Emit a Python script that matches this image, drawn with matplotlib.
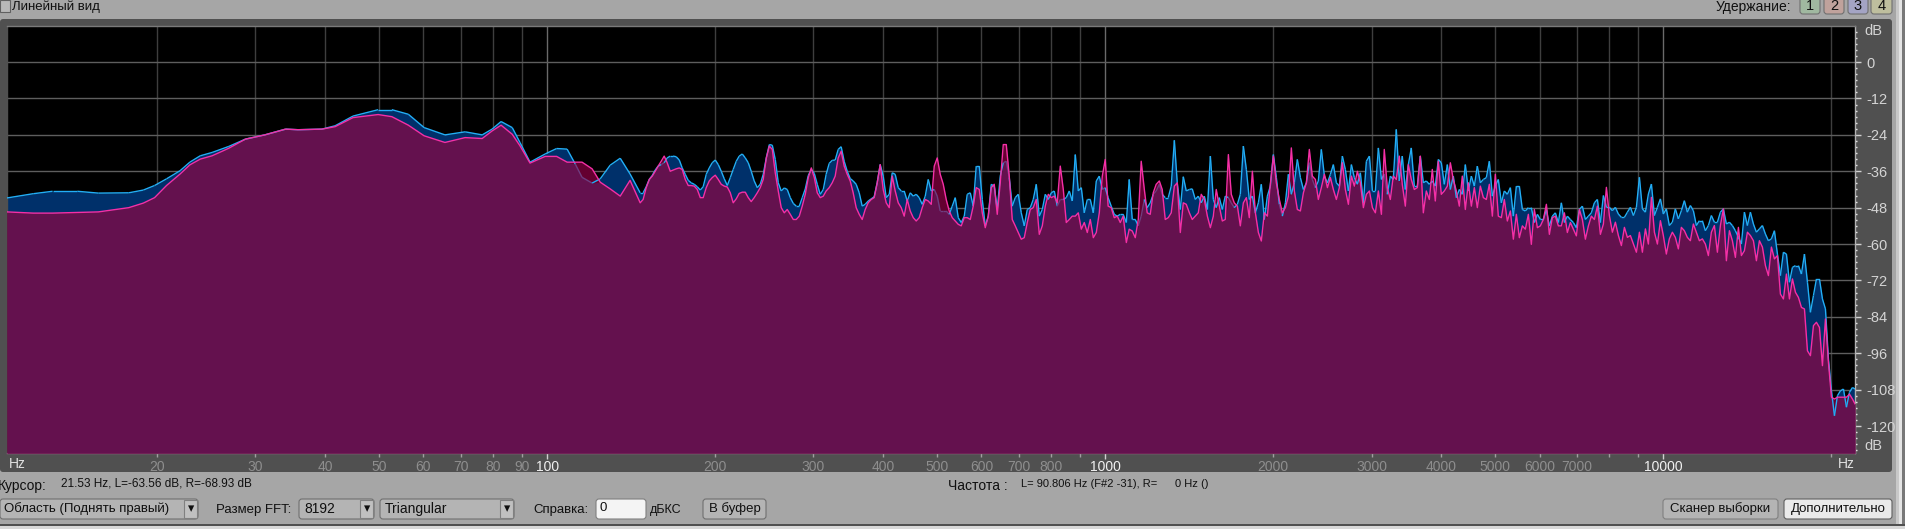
import numpy as np
import matplotlib
matplotlib.use('Agg')
import matplotlib.pyplot as plt
from matplotlib.collections import LineCollection
from matplotlib.patches import Rectangle, FancyBboxPatch
from matplotlib.ticker import FixedLocator, NullFormatter

plt.rcParams['font.family'] = ['Liberation Sans', 'DejaVu Sans']

W, H = 1906, 529

freq_hz = [
    10.77, 12.0, 13.0, 14.4, 15.7, 17.8, 18.9, 19.8, 20.8, 22.0,
    22.9, 23.9, 25.1, 26.9, 28.8, 31.2, 34.0, 35.8, 39.5, 41.7,
    44.9, 49.8, 52.7, 56.4, 60.2, 65.6, 71.3, 76.5, 79.7, 82.7,
    86.6, 89.4, 93.2, 99.2, 104, 108.6, 112.3, 115.5, 120.4, 124.5,
    129.7, 135.2, 140.8,
    146.8, 148.6, 150.5, 152.4, 154.3, 156.2, 158.1, 160.1, 162.1, 164.1,
    166.2, 168.2, 170.3, 172.5, 174.6, 176.8, 179.0, 181.2, 183.5, 185.8,
    188.1, 190.4, 192.8, 195.2, 197.6, 200.1, 202.6, 205.1, 207.7, 210.3,
    212.9, 215.5, 218.2, 220.9, 223.7, 226.5, 229.3, 232.1, 235.0, 238.0,
    240.9, 243.9, 247.0, 250.1, 253.2, 256.3, 259.5, 262.7, 266.0, 269.3,
    272.7, 276.1, 279.5, 283.0, 286.5, 290.1, 293.7, 297.4, 301.1, 304.8,
    308.6, 312.5, 316.2, 320.2, 324.2, 328.2, 332.3, 336.4, 340.6, 344.9,
    349.2, 353.5, 357.9, 362.4, 366.9, 371.5, 376.1, 380.8, 385.5, 390.3,
    395.2,
    400.1, 405.1, 410.2, 415.3, 420.4, 425.7, 431.0, 436.3, 441.8,
    447.3, 452.9, 458.5, 464.2, 470.0, 475.9, 481.8, 487.8, 493.9, 500.0,
    506.2, 512.6, 518.9, 525.4, 532.0, 538.6, 545.3, 552.1, 559.0, 565.9,
    573.0, 580.1, 587.3, 594.7, 602.1, 609.6, 617.2, 624.9, 632.6, 640.5,
    648.5, 656.6, 664.8, 673.0, 681.4, 689.9, 698.5, 707.2, 716.0, 725.0,
    734.0, 743.1, 752.4, 761.8, 771.3, 780.9, 790.6, 800.4, 810.4, 820.5,
    830.7, 841.1, 851.6, 862.2, 872.9, 883.8, 894.8, 906.0, 917.2, 928.7,
    940.2, 952.0, 963.8, 975.8, 988.0,
    1000, 1012, 1025, 1038, 1051, 1064, 1077, 1091, 1104, 1118,
    1132, 1146, 1160, 1175, 1189, 1204, 1219, 1234, 1250, 1265,
    1281, 1297, 1313, 1330, 1346, 1363, 1380, 1397, 1415, 1432,
    1450, 1468, 1486, 1505, 1524, 1543, 1562, 1581, 1601, 1621,
    1641, 1662, 1682, 1703, 1725, 1746, 1768, 1790, 1812, 1835,
    1858, 1881, 1904, 1928, 1952, 1976, 2001, 2026, 2051, 2077,
    2103, 2129, 2155, 2182, 2209, 2237, 2265, 2293, 2321, 2350,
    2380, 2409, 2439, 2470, 2501, 2532, 2563, 2595, 2627, 2660,
    2693, 2727, 2761, 2795, 2830, 2865, 2901, 2937, 2974, 3011,
    3048, 3086, 3125, 3162, 3202, 3242, 3282, 3323, 3364, 3406,
    3449, 3492, 3535, 3579, 3624, 3669, 3715, 3761, 3808, 3855,
    3903, 3952, 4001, 4051, 4102, 4153, 4204, 4257, 4310, 4363,
    4418, 4473, 4529, 4585, 4642, 4700, 4759, 4818, 4878, 4939,
    5000, 5062, 5126, 5189, 5254, 5320, 5386, 5453, 5521, 5590,
    5659, 5730, 5801, 5873, 5947, 6021, 6096, 6172, 6249, 6326,
    6405, 6485, 6566, 6648, 6730, 6814, 6899, 6985, 7072, 7160,
    7250, 7340, 7431, 7524, 7618, 7713, 7809, 7906, 8004, 8104,
    8205, 8307, 8411, 8516, 8622, 8729, 8838, 8948, 9060, 9172,
    9287, 9402, 9520, 9638, 9758, 9880,
    10000, 10125, 10251, 10379, 10508, 10639, 10772, 10906, 11042, 11180,
    11319, 11460, 11603, 11748, 11894, 12042, 12192, 12344, 12498, 12654,
    12811, 12971, 13133, 13296, 13462, 13630, 13800, 13972, 14146, 14322,
    14501, 14681, 14864, 15050, 15237, 15427, 15619, 15814, 16011, 16210,
    16412, 16617, 16824, 17034, 17246, 17461, 17678, 17899, 18122, 18347,
    18576, 18807, 19042, 19279, 19519, 19762, 20009, 20258, 20510, 20766,
    21025, 21287, 21552, 21820, 22050,
]

# canal izquierdo
left_db = [
    -44.8, -43.4, -42.6, -42.6, -43.2, -43.1, -42.2, -40.7, -38.5, -35.8,
    -33, -30.9, -29.8, -27.8, -25.4, -24, -22.1, -22.3, -22.1, -21,
    -17.8, -15.7, -15.7, -17.2, -21.6, -24, -23, -24, -22.1, -19.6,
    -21.6, -26.5, -33, -30.3, -28.5, -28.7, -33.6, -38, -39.9, -38.5,
    -34, -31.7, -36.9,
    -43.1, -43.1, -41.1, -38.7, -37.4, -35.6, -34.3, -33.8, -33.2, -31.6,
    -31, -31, -31.2, -32.3, -34.9, -37, -39, -39.8, -40.3, -41.1,
    -42.2, -41.1, -37, -34.9, -33.2, -32.3, -33.8, -36, -38.5, -40.7,
    -38.1, -35.4, -32.7, -31, -30.3, -31.6, -33.2, -36, -39.2, -41.4,
    -40.3, -37, -31.6, -27.2, -27.4, -32.1, -39.8, -42.5, -41.5, -42,
    -44.7, -46.6, -47.5, -47.5, -44.7, -41.8, -37.4, -35.4, -36.7, -40.3,
    -43.6, -42, -37, -33.4, -32.4, -32.3, -28.8, -27.9, -32.7, -36,
    -38.4, -39.2, -40.3, -43.1, -47.5, -46.9, -45.8, -45.1, -44.4, -39.8,
    -33.8,
    -37.6, -44.7, -43.6, -36.5, -37, -41.4, -42.5, -42.5, -45.8, -43.1,
    -44.2, -43.6, -44.7, -46.9, -44.2, -38.7, -42.5, -42, -44.2, -49.1,
    -49.1, -49.1, -50.2, -47.5, -44.7, -51.3, -52.9, -50.8, -43.6, -43.1,
    -47.5, -34.3, -34.3, -45.3, -54, -50.8, -40.3, -40.9, -48.6, -37.6,
    -33.2, -32.7, -38.1, -47.5, -44.7, -43.6, -49.7, -54, -48.6, -48,
    -45.3, -40.3, -50.8, -48.6, -43.6, -45.3, -43.1, -42.5, -47.5, -45.3,
    -45.3, -44.7, -42.5, -45.8, -30.5, -42.5, -41.4, -49.7, -45.3, -45.3,
    -49.7, -39.2, -37.6, -42, -41.4, -44.7, -47.5, -50.2, -50.8, -50.2,
    -50.2, -52.9, -38.7, -51.9, -51.9, -54, -50.8, -45.3, -48, -46.4,
    -43.6, -42.5, -40.3, -43.6, -44.7, -44.7, -40.9, -25.8, -39.8, -48.6,
    -37.8, -42.5, -42, -41.8, -45.3, -44.2, -46.4, -44.2, -48.6, -31,
    -45.3, -48, -44.7, -48.6, -44.2, -44.7, -46.4, -48, -46.9, -43.6,
    -27.7, -35.4, -45.3, -44.2, -49.7, -46.4, -40.3, -51.9, -44.2, -40.9,
    -30.5, -38.1, -46.9, -50.8, -46.4, -37, -43.6, -39.8, -32.1, -38.1,
    -42, -39.8, -33.2, -38.7, -41.4, -39.2, -28.8, -37.6, -39.8, -37,
    -33.8, -39.8, -40.9, -31, -35.4, -42.5, -33.8, -38.1, -40.3, -36.5,
    -46.4, -32.7, -31, -42.5, -42.5, -28.3, -38.7, -37, -43.6, -37.6,
    -38.7, -22.2, -39.2, -31, -42, -33.8, -28.3, -40.9, -40.9, -31,
    -39.8, -39.2, -40.3, -39.2, -40.9, -32.1, -33.2, -40.3, -33.8, -42,
    -37.6, -44.7, -42, -43.6, -33.8, -42.5, -37.6, -40.9, -34.3, -39.8,
    -38.7, -38.1, -32.7, -44.2, -40.9, -38.7, -46.4, -42.5, -43.6, -41.4,
    -50.8, -40.9, -40.9, -48.6, -49.1, -48, -48, -52.9, -50.2, -51.9,
    -51.9, -48.6, -54, -50.8, -49.7, -52.9, -46.4, -52.9, -50.8, -51.9,
    -52.9, -54.6, -48.6, -47.5, -51.9, -50.8, -49.7, -46.4, -45.3, -52.9,
    -44, -47.9, -47.9, -49, -47.9, -50.1, -51.2, -51.2, -49.5, -47.9,
    -50.6, -47.9, -38, -48.4, -49.5, -43.5, -40.2, -50.6, -47.9, -45.1,
    -50.1, -48.4, -53.9, -52.8, -48.4, -51.7, -49, -45.7, -49.5, -47.3,
    -49, -53.9, -52.3, -52.3, -55.6, -53.9, -50.6, -52.8, -52.8, -49.5,
    -48.4, -53.4, -52.8, -53.9, -55.6, -57.8, -60, -49.5, -53.9, -49.5,
    -53.4, -56.1, -55, -53.9, -56.7, -58.9, -58.3, -55.6, -63.3,
    -70.4, -62.7, -63.3, -72.6, -67.7, -67.1, -67.1, -69.9, -63.3, -72.6,
    -82.5, -77, -71.5, -71.5, -78.1, -81.4, -97.9, -108.4, -116.6, -110,
    -108.4, -107.8, -113.8, -108.9, -107.3, -107.8,
]

# canal derecho
right_db = [
    -49.4, -49.8, -49.8, -49.6, -49.4, -48, -46.5, -44.7, -40.7, -36.9,
    -33.9, -32, -30.9, -28.4, -25.4, -24, -22.1, -22.3, -22.1, -21.3,
    -18.3, -17.3, -18, -20.8, -24.3, -26.5, -24.9, -25.2, -22.7, -20.8,
    -23.8, -27.6, -33.3, -31.1, -31.1, -33, -33, -33, -35.2, -39.6,
    -41.8, -44.2, -39,
    -46.4, -45.3, -41.4, -38.7, -37.6, -36, -34.3, -32.7, -31, -33.2,
    -36, -35.6, -35.2, -34.9, -35.4, -38.7, -40.7, -40.7, -40.9, -42,
    -44.7, -44.7, -41.4, -39.2, -38.1, -37.3, -38.7, -40.3, -40.9, -41.2,
    -43.1, -46.4, -45.1, -43.3, -42.9, -42.9, -44.7, -46, -44.7, -43.1,
    -41.4, -38.7, -31.6, -27.7, -28.8, -36.5, -42.5, -48, -49.7, -48.6,
    -50.2, -51.9, -51.9, -50.8, -47.5, -43.6, -38.1, -34.9, -38.1, -43.1,
    -44.7, -44.2, -42.5, -41.4, -39.8, -37.6, -31.6, -29.4, -34.3, -37,
    -39.2, -43.1, -48, -50.2, -51.9, -48.6, -46.4, -45.3, -44.7, -39.8,
    -33.8,
    -42, -46.4, -48, -37.6, -42.5, -46.4, -48, -50.8, -45.3, -49.1,
    -51.3, -52.4, -51.3, -48, -45.3, -45.8, -46.9, -34.3, -31.6, -37,
    -40.3, -45.3, -49.1, -51.3, -52.4, -53.5, -54, -51.3, -51.3, -51.9,
    -47.5, -41.4, -42, -49.7, -54.6, -50.8, -41.4, -40.3, -50.2, -39.8,
    -27.2, -27.2, -37.6, -51.9, -54, -56.2, -58.4, -57.9, -52.9, -48.6,
    -48, -45.3, -56.8, -54, -47.5, -43.6, -44.7, -44.2, -46.4, -34.3,
    -42, -52.9, -51.9, -50.8, -50.8, -49.7, -55.1, -52.9, -56.2, -51.9,
    -57.9, -56.2, -49.7, -37.6, -32.1, -47.5, -48, -51.3, -50.8, -52.9,
    -50.8, -59.5, -55.1, -55.7, -57.9, -51.9, -32.7, -42, -49.7, -50.2,
    -43.1, -40.3, -39.2, -42, -51.9, -51.3, -49.7, -40.9, -39.8, -56.2,
    -46.4, -46.9, -49.7, -51.9, -50.8, -49.7, -43.6, -45.3, -50.8, -54.6,
    -50.8, -42, -47.5, -52.4, -51.9, -30.5, -43.6, -46.4, -47.5, -54,
    -46.4, -44.7, -51.3, -36, -49.7, -56.2, -59, -49.7, -50.8, -40.3,
    -31, -39.8, -45.3, -49.7, -48, -44.2, -28.3, -42.5, -48.6, -49.1,
    -43.1, -39.8, -28.8, -37.6, -38.7, -45.3, -41.4, -37, -41.4, -38.1,
    -42, -45.3, -41.4, -33.2, -42, -46.9, -37.6, -40.9, -36, -39.8,
    -48, -43.6, -42.5, -48, -49.7, -42.5, -50.2, -28.8, -41.4, -45.3,
    -37.6, -38.7, -31, -40.3, -47.5, -33.8, -38.7, -42, -41.4, -31,
    -49.7, -42.5, -45.3, -35.4, -45.8, -32.7, -43.6, -42.5, -40.9, -33.2,
    -38.7, -42.5, -47.5, -37.6, -48.6, -39.8, -47.5, -41.4, -48, -40.9,
    -44.7, -45.3, -40.3, -50.8, -37, -50.8, -51.3, -45.3, -52.4, -49.1,
    -58.4, -50.2, -57.9, -54, -55.1, -50.2, -60.1, -48.6, -54.6, -54,
    -51.9, -46.9, -56.8, -51.3, -50.8, -54, -54, -49.7, -56.2, -52.9,
    -55.1, -57.3, -48.6, -51.9, -58.4, -54, -50.8, -51.9, -47.5, -56.8,
    -53.4, -41.3, -50.6, -56.1, -52.8, -57.2, -60.5, -54.5, -57.8, -57.2,
    -60, -62.7, -56.1, -62.7, -55, -60, -44.6, -56.1, -60, -52.3,
    -57.2, -63.3, -58.3, -56.1, -57.8, -61.6, -54.5, -55.6, -57.8, -58.9,
    -53.4, -56.1, -58.9, -58.3, -60, -63.8, -56.1, -53.9, -62.7, -53.9,
    -48.4, -65.5, -55.6, -58.9, -64.4, -54.5, -63.8, -62.2, -56.1, -57.2,
    -58.9, -65.5, -58.9, -61, -67.1, -70.4, -61, -64.9, -63.8,
    -76.5, -78.1, -69.9, -78.1, -71.5, -75.9, -77.6, -80.9, -81.4, -95.2,
    -96.8, -86.9, -85.8, -87.5, -100.1, -84.7, -99, -110.5, -111.1, -110.5,
    -110.5, -110.5, -110.5, -109.5, -111.1, -112.7,
]

x_labeled = [20, 30, 40, 50, 60, 70, 80, 90, 200, 300, 400, 500, 600, 700, 800,
             2000, 3000, 4000, 5000, 6000, 7000]
x_unlabeled = [900, 8000, 9000, 20000]
x_major = [100, 1000, 10000]
db_ticks = [0, -12, -24, -36, -48, -60, -72, -84, -96, -108, -120]


def fx(px):
    return px / W


def fy(py):
    return 1 - py / H


def box(fig, x0, y0, x1, y1, color, edge='none', round_it=False):
    if round_it:
        p = FancyBboxPatch((x0, H - y1), x1 - x0, y1 - y0, boxstyle='round,pad=0,rounding_size=3',
                           fc=color, ec=edge, lw=0.8, transform=None, zorder=1)
        # coordenadas en pixeles
        fig.add_artist(p)
    else:
        fig.add_artist(Rectangle((x0, H - y1), x1 - x0, y1 - y0, fc=color, ec=edge, lw=0.8,
                                 transform=None, zorder=1))


def label(fig, px, py, s, size=9.5, color='#101010', ha='left'):
    fig.text(fx(px), fy(py), s, fontsize=size, color=color, ha=ha, va='center', zorder=4)


fig = plt.figure(figsize=(W / 100, H / 100), dpi=100, facecolor='#A6A6A6')

# marco oscuro y bordes de ventana
box(fig, 0, 19, 1892, 472, '#505050', round_it=True)
box(fig, 1896, 0, 1899, 529, '#C8C8C8')
box(fig, 1899, 0, 1902, 529, '#E4E4E4')
box(fig, 1902, 0, 1906, 529, '#787878')
box(fig, 0, 524, 1906, 526, '#505050')
box(fig, 0, 526, 1906, 529, '#D8D8D8')

ax = fig.add_axes([fx(7), fy(453), fx(1855 - 7), (453 - 26) / H], facecolor='black')
ax.set_zorder(2)
ax.set_xscale('log')

f = np.array(freq_hz, dtype=float)
L = np.array(left_db)
R = np.array(right_db)
floor = -128.9

ax.fill_between(f, L, floor, color='#00306A', lw=0, zorder=2)
ax.fill_between(f, R, floor, color='#640030', lw=0, zorder=3)
ax.fill_between(f, np.minimum(L, R), floor, color='#64114E', lw=0, zorder=4)

# la linea izquierda se ve apagada cuando queda debajo de la derecha
pts = np.column_stack([f, L])
segs = np.stack([pts[:-1], pts[1:]], axis=1)
seg_on = (L[:-1] >= R[:-1]) | (L[1:] >= R[1:])
cols = ['#22AEF6' if s else '#6E3D80' for s in seg_on]
ax.add_collection(LineCollection(segs, colors=cols, linewidths=1.0, zorder=5), autolim=False)
ax.plot(f, R, color='#F52FA6', lw=1.0, zorder=6)

ax.set_xlim(10.77, 22050)
ax.set_ylim(floor, 11.9)

# rejilla
ax.set_axisbelow(True)
ax.xaxis.set_major_locator(FixedLocator(x_major))
ax.set_xticklabels([str(v) for v in x_major])
ax.set_xticks(x_labeled + x_unlabeled, [str(v) for v in x_labeled] + [''] * len(x_unlabeled), minor=True)
ax.grid(True, which='major', axis='x', color='#6A6A6A', lw=1)
ax.grid(True, which='minor', axis='x', color='#3E3E3E', lw=1)
ax.set_yticks(db_ticks, [str(v) for v in db_ticks])
ax.set_yticks(np.arange(-128, 12, 2), minor=True)
ax.grid(True, which='major', axis='y', color='#5E5E5E', lw=1)

ax.yaxis.tick_right()
ax.tick_params(axis='y', which='major', length=4, width=1, color='#D0D0D0', pad=4, labelsize=10.5, labelcolor='#D4D4D4')
ax.tick_params(axis='y', which='minor', length=1.2, width=1, color='#E8E8E8')
ax.tick_params(axis='x', which='major', length=4, width=1, color='#D0D0D0', pad=1, labelsize=10, labelcolor='#F0F0F0')
ax.tick_params(axis='x', which='minor', length=3, width=1, color='#A0A0A0', pad=2, labelsize=10, labelcolor='#8E8E8E')
for side, c in [('top', '#7A7A7A'), ('left', '#505050'), ('bottom', '#9A6A90'), ('right', '#B0B0B0')]:
    ax.spines[side].set_color(c)
    ax.spines[side].set_linewidth(1)

label(fig, 1864, 31, 'dB', 10.5, '#D4D4D4')
label(fig, 1864, 446, 'dB', 10.5, '#D4D4D4')
label(fig, 9, 464, 'Hz', 10, '#E0E0E0')
label(fig, 1838, 464, 'Hz', 10, '#E0E0E0')

# barra superior
box(fig, 0, 0, 10, 12, '#B8B8B8', '#606060')
label(fig, 12, 7, 'Линейный вид', 9.5)
label(fig, 1716, 7, 'Удержание:', 10)
for x0, x1, c, s in [(1800, 1820, '#A0B8A0', '1'), (1824, 1844, '#C0A29C', '2'),
                     (1848, 1868, '#A4A4C4', '3'), (1871, 1892, '#BEBE9E', '4')]:
    box(fig, x0, -3, x1, 14, c, '#707070', round_it=True)
    label(fig, (x0 + x1) / 2, 6, s, 10.5, ha='center')

# barra inferior
label(fig, -2, 486, 'Курсор:', 10)
label(fig, 61, 484, '21.53 Hz, L=-63.56 dB, R=-68.93 dB', 8.5)
label(fig, 948, 486, 'Частота :', 10)
label(fig, 1021, 484, 'L= 90.806 Hz (F#2 -31), R=', 8)
label(fig, 1175, 484, '0 Hz ()', 8)

for x0, x1, arrow in [(0, 198, 184), (299, 374, 360), (380, 514, 500)]:
    box(fig, x0, 499, x1, 519, '#B4B4B4', '#707070', round_it=True)
    box(fig, arrow, 500, x1 - 1, 518, '#C0C0C0', '#808080')
    label(fig, (arrow + x1) / 2, 509, '▾', 9, '#101010', ha='center')
label(fig, 4, 509, 'Область (Поднять правый)', 9.5)
label(fig, 216, 510, 'Размер FFT:', 9.5)
label(fig, 304, 509, '8192', 10)
label(fig, 385, 509, 'Triangular', 10)
label(fig, 533, 510, 'Справка:', 9.5)
box(fig, 596, 499, 646, 519, '#F4F4F4', '#808080', round_it=True)
label(fig, 600, 508, '0', 9.5)
label(fig, 650, 510, 'дБКС', 9)
box(fig, 703, 499, 766, 519, '#B4B4B4', '#707070', round_it=True)
label(fig, 734.5, 509, 'В буфер', 9.5, ha='center')
box(fig, 1663, 499, 1778, 519, '#B4B4B4', '#808080', round_it=True)
label(fig, 1720.5, 509, 'Сканер выборки', 9.5, ha='center')
box(fig, 1784, 499, 1892, 519, '#EAEAEA', '#606060', round_it=True)
label(fig, 1838, 509, 'Дополнительно', 9.5, ha='center')

fig.savefig('out.png', dpi=100, facecolor=fig.get_facecolor())
